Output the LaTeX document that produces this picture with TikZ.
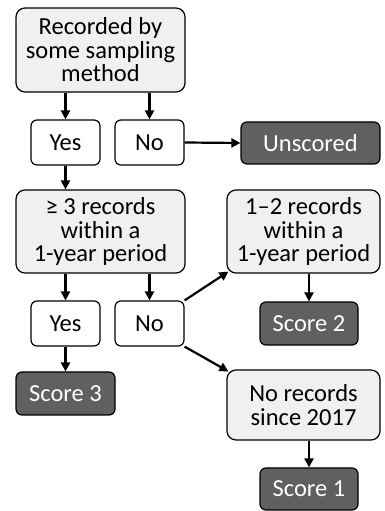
\documentclass[tikz,border=0pt]{standalone}
\usepackage{fontspec}
\setmainfont{Carlito}
\usetikzlibrary{arrows.meta, positioning}
\definecolor{qfill}{RGB}{240,240,240}
\definecolor{sfill}{RGB}{96,96,96}
\tikzset{
  question/.style={rectangle, rounded corners=9pt, draw=black, line width=1.2pt,
                   fill=qfill, align=center, inner sep=0pt,
                   font=\fontsize{24.5}{23.5}\selectfont},
  answer/.style={rectangle, rounded corners=6pt, draw=black, line width=1.2pt,
                 fill=white, minimum width=69pt, minimum height=45pt,
                 inner sep=0pt, font=\fontsize{24.5}{23.5}\selectfont},
  score/.style={rectangle, rounded corners=6pt, draw=black, line width=1.2pt,
                fill=sfill, text=white, inner sep=0pt,
                minimum width=98pt, minimum height=43pt,
                font=\fontsize{24.5}{23.5}\selectfont},
  arrow/.style={-{Triangle[length=9pt,width=9pt]}, line width=2.2pt},
}

\begin{document}
\begin{tikzpicture}[x=1pt, y=1pt]
        \useasboundingbox (0,0) rectangle (385,511);

        % first question
        \node[question, minimum width=169pt, minimum height=84pt] (rec) at (100.5,461)
          {Recorded by\\some sampling\\method};
        \node[answer] (yes1) at (65.5,368.5) {Yes};
        \node[answer] (no1) at (149.5,368.5) {No};
        \node[score, minimum width=139pt, minimum height=42pt] (unsc) at (310.5,368) {Unscored};

        % second question
        \node[question, minimum width=169pt, minimum height=83pt] (three) at (100.5,279.5)
          {≥ 3 records\\within a\\1-year period};
        \node[question, minimum width=153pt, minimum height=83pt] (onetwo) at (303.5,279.5)
          {1--2 records\\within a\\1-year period};
        \node[answer] (yes2) at (65.5,187.5) {Yes};
        \node[answer] (no2) at (149.5,187.5) {No};
        \node[score] (sc2) at (309,187.5) {Score 2};
        \node[score, minimum width=99pt] (sc3) at (65.5,117.5) {Score 3};
        \node[question, minimum width=153pt, minimum height=70pt] (none) at (303.5,106)
          {No records\\since 2017};
        \node[score, minimum height=42pt] (sc1) at (309,22) {Score 1};

        % connectors
        \draw[arrow] (rec.south -| yes1.north) -- (yes1.north);
        \draw[arrow] (rec.south -| no1.north) -- (no1.north);
        \draw[arrow] (no1.east) -- (unsc.west);
        \draw[arrow] (yes1.south) -- (yes1.south |- three.north);
        \draw[arrow] (three.south -| yes2.north) -- (yes2.north);
        \draw[arrow] (three.south -| no2.north) -- (no2.north);
        \draw[arrow] (no2.north east) -- ([shift={(2pt,2pt)}]onetwo.south west);
        \draw[arrow] (no2.south east) -- ([shift={(2pt,-2pt)}]none.north west);
        \draw[arrow] (onetwo.south -| sc2.north) -- (sc2.north);
        \draw[arrow] (yes2.south) -- (sc3.north);
        \draw[arrow] (none.south -| sc1.north) -- (sc1.north);

      \end{tikzpicture}
\end{document}
